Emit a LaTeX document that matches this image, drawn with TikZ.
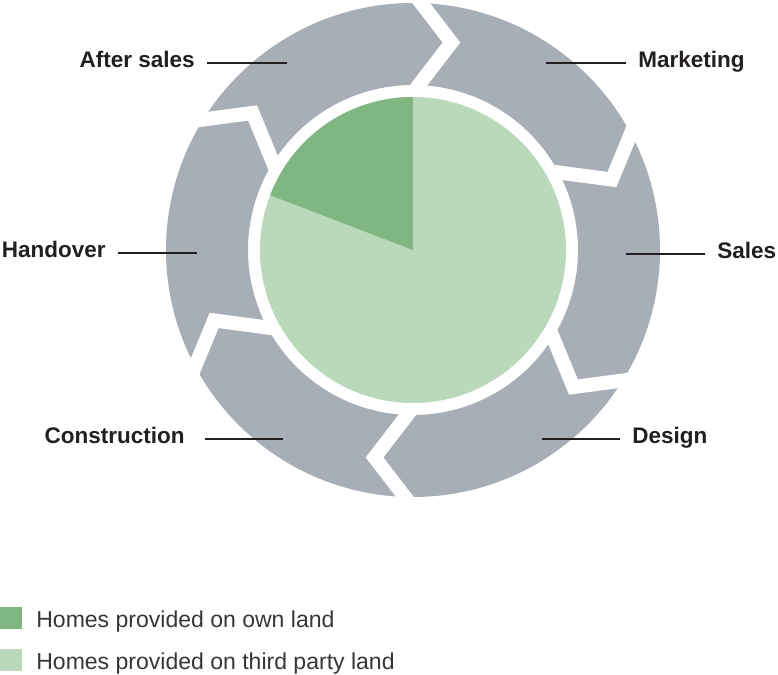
\documentclass[tikz,border=0pt]{standalone}
\usepackage{fontspec}
\setmainfont{Liberation Sans}
\usepackage{tikz}
\usepackage{xcolor}
\usetikzlibrary{positioning}

\definecolor{ringgray}{RGB}{167,174,181}
\definecolor{ownland}{RGB}{128,182,130}
\definecolor{thirdland}{RGB}{186,216,186}
\definecolor{labeltext}{RGB}{35,31,32}

\begin{document}
\begin{tikzpicture}[
    steplabel/.style={font=\fontsize{12.8}{15}\bfseries, text=labeltext, inner sep=0.24cm, text height=0.72em, text depth=0.2em},
    leader/.style={draw=labeltext, line width=0.75pt},
    swatch/.style={minimum size=0.44cm, inner sep=0pt, anchor=north west},
    legendtext/.style={font=\fontsize{13.1}{15}\selectfont, text=labeltext!90, anchor=base west, inner sep=0pt}
]
    \useasboundingbox (-8.26,-8.48) rectangle (7.30,5.0);

    % Process ring, cut into six arrows
    \fill[ringgray, even odd rule] (0,0) circle (4.94cm) (0,0) circle (3.30cm);
    \foreach \a in {90,30,-30,-90,-150,-210}
        \draw[white, line width=0.28cm, line join=miter] (\a:5.15) -- (\a-10.5:4.22) -- (\a:3.15);

    % Land split pie
    \fill[thirdland] (0,0) circle (3.06cm);
    \fill[ownland] (0,0) -- (90:3.06) arc[start angle=90, end angle=159, radius=3.06] -- cycle;

    % Step labels with leader lines
    \node[steplabel, anchor=west] (marketing) at (4.26,3.74) {Marketing};
    \coordinate (marketing-end) at (2.66,3.74);
    \draw[leader] (marketing) -- (marketing-end);

    \node[steplabel, anchor=west] (sales) at (5.84,-0.08) {Sales};
    \coordinate (sales-end) at (4.26,-0.08);
    \draw[leader] (sales) -- (sales-end);

    \node[steplabel, anchor=west] (design) at (4.14,-3.78) {Design};
    \coordinate (design-end) at (2.58,-3.78);
    \draw[leader] (design) -- (design-end);

    \node[steplabel, anchor=east] (construction) at (-4.32,-3.78) {Construction};
    \coordinate (construction-end) at (-2.60,-3.78);
    \draw[leader, shorten <=0.16cm] (construction) -- (construction-end);

    \node[steplabel, anchor=east] (handover) at (-5.90,-0.06) {Handover};
    \coordinate (handover-end) at (-4.32,-0.06);
    \draw[leader] (handover) -- (handover-end);

    \node[steplabel, anchor=east] (aftersales) at (-4.12,3.74) {After sales};
    \coordinate (aftersales-end) at (-2.52,3.74);
    \draw[leader] (aftersales) -- (aftersales-end);

    % Legend
    \node[swatch, fill=ownland] (ownswatch) at (-8.26,-7.14) {};
    \node[legendtext] (ownlabel) at (-7.54,-7.54) {Homes provided on own land};
    \node[swatch, fill=thirdland] (thirdswatch) at (-8.26,-7.98) {};
    \node[legendtext] (thirdlabel) at (-7.54,-8.38) {Homes provided on third party land};
\end{tikzpicture}
\end{document}
